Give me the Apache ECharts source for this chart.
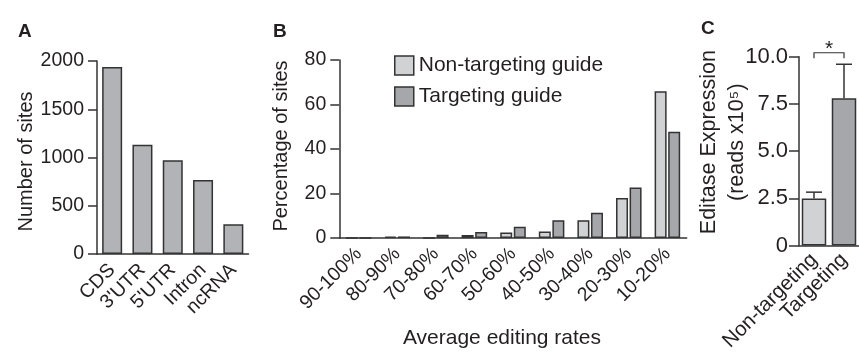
<!DOCTYPE html>
<html>
<head>
<meta charset="utf-8">
<script src="https://cdn.jsdelivr.net/npm/echarts@6/dist/echarts.min.js"></script>
<style>
html,body{margin:0;padding:0;background:#fff;}
#chart{width:859px;height:354px;}
</style>
</head>
<body>
<div id="chart"></div>
<script>
// ---- Data ----
const regionCats = ['CDS', "3'UTR", "5'UTR", 'Intron', 'ncRNA'];
const regionSites = [1938, 1133, 971, 767, 308];

const rateCats = ['90-100%', '80-90%', '70-80%', '60-70%', '50-60%', '40-50%', '30-40%', '20-30%', '10-20%'];
const nonTargetingPct = [0, 0.6, 0, 1.4, 2.5, 2.9, 8.0, 18.0, 66.0];
const targetingPct = [0, 0.7, 1.5, 2.7, 5.1, 8.0, 11.4, 22.7, 47.7];

const guideCats = ['Non-targeting', 'Targeting'];
const editaseMean = [2.5, 7.8];
const editaseUpper = [2.83, 9.6];
const sigBracket = [[0, 1, 10.21, 9.92]];

// ---- Style ----
const FONT = '"Liberation Sans", Arial, Helvetica, sans-serif';
const TXT = '#231f20';
const LINE = '#333333';
const GRAY_A = '#b2b3b7';
const GRAY_NT = '#d1d2d4';
const GRAY_T = '#a6a7ab';

function plain(v) { return String(v); }

function yAxisBase(gridIndex, max, interval, fmt, fs, tickLen, margin) {
  return {
    type: 'value', gridIndex, min: 0, max, interval,
    axisLine: {show: true, lineStyle: {color: LINE, width: 1.5}},
    axisTick: {show: true, length: tickLen, lineStyle: {color: LINE, width: 1.5}},
    axisLabel: {color: TXT, fontFamily: FONT, fontSize: fs, margin: margin, formatter: fmt},
    splitLine: {show: false}
  };
}

const chart = echarts.init(document.getElementById('chart'), null, {renderer: 'canvas'});
chart.setOption({
  animation: false,
  textStyle: {fontFamily: FONT, color: TXT},
  title: [
    {text: 'A', left: 18, top: 22, padding: 0, textStyle: {fontSize: 19, fontWeight: 'bold', color: TXT, fontFamily: FONT}},
    {text: 'B', left: 273, top: 22, padding: 0, textStyle: {fontSize: 19, fontWeight: 'bold', color: TXT, fontFamily: FONT}},
    {text: 'C', left: 701, top: 19, padding: 0, textStyle: {fontSize: 19, fontWeight: 'bold', color: TXT, fontFamily: FONT}}
  ],
  legend: {
    orient: 'vertical', left: 394, top: 55, padding: 0,
    itemWidth: 19, itemHeight: 19, itemGap: 10,
    textStyle: {fontSize: 21, color: TXT, fontFamily: FONT},
    data: [
      {name: 'Non-targeting guide', icon: 'rect', itemStyle: {color: GRAY_NT, borderColor: LINE, borderWidth: 1.5}},
      {name: 'Targeting guide', icon: 'rect', itemStyle: {color: GRAY_T, borderColor: LINE, borderWidth: 1.5}}
    ]
  },
  grid: [
    {left: 97, top: 61, width: 151.5, height: 193},
    {left: 339.3, top: 60, width: 347.4, height: 192.7},
    {left: 799, top: 56.7, width: 65, height: 192}
  ],
  xAxis: [
    {
      type: 'category', gridIndex: 0, data: regionCats,
      axisLine: {lineStyle: {color: LINE, width: 1.5}},
      axisTick: {alignWithLabel: true, length: 9, lineStyle: {color: LINE, width: 1.5}},
      axisLabel: {rotate: 45, color: TXT, fontFamily: FONT, fontSize: 19.5, margin: 13, interval: 0}
    },
    {
      type: 'category', gridIndex: 1, data: rateCats,
      axisLine: {lineStyle: {color: LINE, width: 1.5}},
      axisTick: {alignWithLabel: true, length: 9, lineStyle: {color: LINE, width: 1.5}},
      axisLabel: {rotate: 45, color: TXT, fontFamily: FONT, fontSize: 19.5, margin: 13, interval: 0},
      name: 'Average editing rates', nameLocation: 'middle', nameGap: 90,
      nameTextStyle: {fontSize: 21, color: TXT, fontFamily: FONT, padding: [0, 22, 0, 0]}
    },
    {
      type: 'category', gridIndex: 2, data: guideCats,
      axisLine: {lineStyle: {color: LINE, width: 1.5}},
      axisTick: {show: false},
      axisLabel: {rotate: 45, color: TXT, fontFamily: FONT, fontSize: 20.5, margin: 11, interval: 0}
    }
  ],
  yAxis: [
    Object.assign(yAxisBase(0, 2000, 500, plain, 19.5, 9, 13), {
      name: 'Number of sites', nameLocation: 'middle', nameGap: 58, nameRotate: 90,
      nameTextStyle: {fontSize: 20, color: TXT, fontFamily: FONT, padding: [0, 8, 0, 0]}
    }),
    Object.assign(yAxisBase(1, 80, 20, plain, 19.5, 9, 13), {
      name: 'Percentage of sites', nameLocation: 'middle', nameGap: 48, nameRotate: 90,
      nameTextStyle: {fontSize: 20, color: TXT, fontFamily: FONT, padding: [0, 0, 0, 6]}
    }),
    Object.assign(yAxisBase(2, 10, 2.5, function (v) { return v === 0 ? '0' : v.toFixed(1); }, 22, 10, 11), {
      name: 'Editase Expression\n(reads x10⁵)', nameLocation: 'middle', nameGap: 48, nameRotate: 90,
      nameMoveOverlap: false,
      nameTextStyle: {fontSize: 21.5, lineHeight: 28, color: TXT, fontFamily: FONT, padding: [0, 0, 0, 18]}
    })
  ],
  series: [
    {
      type: 'bar', xAxisIndex: 0, yAxisIndex: 0, data: regionSites, barWidth: 20,
      itemStyle: {color: GRAY_A, borderColor: LINE, borderWidth: 1.5}
    },
    {
      name: 'Non-targeting guide', type: 'bar', xAxisIndex: 1, yAxisIndex: 1, data: nonTargetingPct,
      barWidth: 12, barGap: '13%',
      itemStyle: {color: GRAY_NT, borderColor: LINE, borderWidth: 1.5}
    },
    {
      name: 'Targeting guide', type: 'bar', xAxisIndex: 1, yAxisIndex: 1, data: targetingPct,
      barWidth: 12, barGap: '13%',
      itemStyle: {color: GRAY_T, borderColor: LINE, borderWidth: 1.5}
    },
    {
      type: 'bar', xAxisIndex: 2, yAxisIndex: 2, barWidth: 24.5,
      data: editaseMean.map(function (v, i) {
        return {value: v, itemStyle: {color: i === 0 ? GRAY_NT : GRAY_T, borderColor: LINE, borderWidth: 1.5}};
      })
    },
    {
      type: 'custom', xAxisIndex: 2, yAxisIndex: 2, clip: false, z: 3,
      data: editaseMean.map(function (v, i) { return [i, v, editaseUpper[i]]; }),
      renderItem: function (params, api) {
        const b = api.coord([api.value(0), api.value(1)]);
        const t = api.coord([api.value(0), api.value(2)]);
        const hw = 8;
        return {
          type: 'group',
          children: [
            {type: 'line', shape: {x1: b[0], y1: b[1], x2: t[0], y2: t[1]}, style: {stroke: LINE, lineWidth: 1.5}},
            {type: 'line', shape: {x1: t[0] - hw, y1: t[1], x2: t[0] + hw, y2: t[1]}, style: {stroke: LINE, lineWidth: 1.5}}
          ]
        };
      }
    },
    {
      type: 'custom', xAxisIndex: 2, yAxisIndex: 2, clip: false, z: 3,
      data: sigBracket,
      renderItem: function (params, api) {
        const a0 = api.coord([api.value(0), api.value(3)]);
        const a1 = api.coord([api.value(0), api.value(2)]);
        const b1 = api.coord([api.value(1), api.value(2)]);
        const b0 = api.coord([api.value(1), api.value(3)]);
        return {
          type: 'group',
          children: [
            {type: 'polyline', shape: {points: [a0, a1, b1, b0]}, style: {stroke: LINE, lineWidth: 1.2, fill: null}},
            {type: 'text', style: {text: '*', x: (a1[0] + b1[0]) / 2, y: a1[1] + 7, textAlign: 'center', textVerticalAlign: 'bottom', fontSize: 21, fontFamily: FONT, fill: TXT}}
          ]
        };
      }
    }
  ]
});
</script>
</body>
</html>
